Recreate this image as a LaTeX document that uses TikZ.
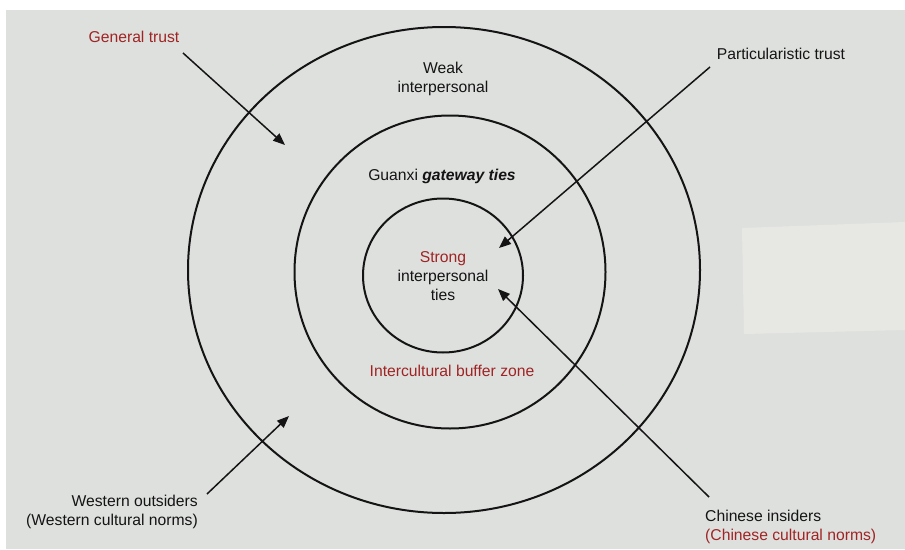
\documentclass[tikz,border=0pt]{standalone}
\usepackage{fontspec}
\setmainfont{Liberation Sans}
\usetikzlibrary{arrows.meta}
\definecolor{paper}{RGB}{222,224,222}
\definecolor{patch}{RGB}{231,232,228}
\definecolor{txtred}{RGB}{160,36,36}
\tikzset{
  ring/.style={draw=black!92, line width=2pt},
  lbl/.style={inner sep=0pt, font=\fontsize{15.7}{19}\selectfont, text=black!92},
  redlbl/.style={lbl, text=txtred},
  pointer/.style={draw=black!92, line width=1.5pt, -{Triangle[length=12pt,width=9.5pt]}}
}
\begin{document}
\begin{tikzpicture}[x=1pt,y=-1pt]
\useasboundingbox (0,0) rectangle (905,549);
\fill[white] (0,0) rectangle (905,549);
\fill[paper] (6,10) rectangle (905,549);
\fill[patch] (742,228) -- (905,222) -- (905,330) -- (744,334) -- cycle;
% rings
\draw[ring] (444,270) ellipse [x radius=256pt, y radius=243pt];
\draw[ring] (450,272) ellipse [x radius=155.5pt, y radius=156.5pt];
\draw[ring] (443,275.5) ellipse [x radius=80pt, y radius=77pt];
% labels
\node[redlbl] (general) at (134,37) {General trust};
\node[lbl] (partic) at (781,54) {Particularistic trust};
\node[lbl, align=center] (weak) at (443,79) {Weak\\interpersonal};
\node[lbl] (guanxi) at (442,176) {Guanxi \textbf{\textit{gateway ties}}};
\node[lbl, align=center] (strong) at (443,276) {\textcolor{txtred}{Strong}\\interpersonal\\ties};
\node[redlbl] (buffer) at (452,371) {Intercultural buffer zone};
\node[lbl, align=right, anchor=east] (western) at (198,512) {Western outsiders\\(Western cultural norms)};
\node[lbl, align=left, anchor=west] (chinese) at (705,527) {Chinese insiders\\\textcolor{txtred}{(Chinese cultural norms)}};
% arrow ends
\coordinate (gS) at (183,53);   \coordinate (gE) at (285,145);
\coordinate (pS) at (710,67);   \coordinate (pE) at (499,248);
\coordinate (wS) at (207,494);  \coordinate (wE) at (289,416);
\coordinate (cS) at (709,497);  \coordinate (cE) at (498,289);
\draw[pointer] (gS) -- (gE);
\draw[pointer] (pS) -- (pE);
\draw[pointer] (wS) -- (wE);
\draw[pointer] (cS) -- (cE);
\end{tikzpicture}
\end{document}
